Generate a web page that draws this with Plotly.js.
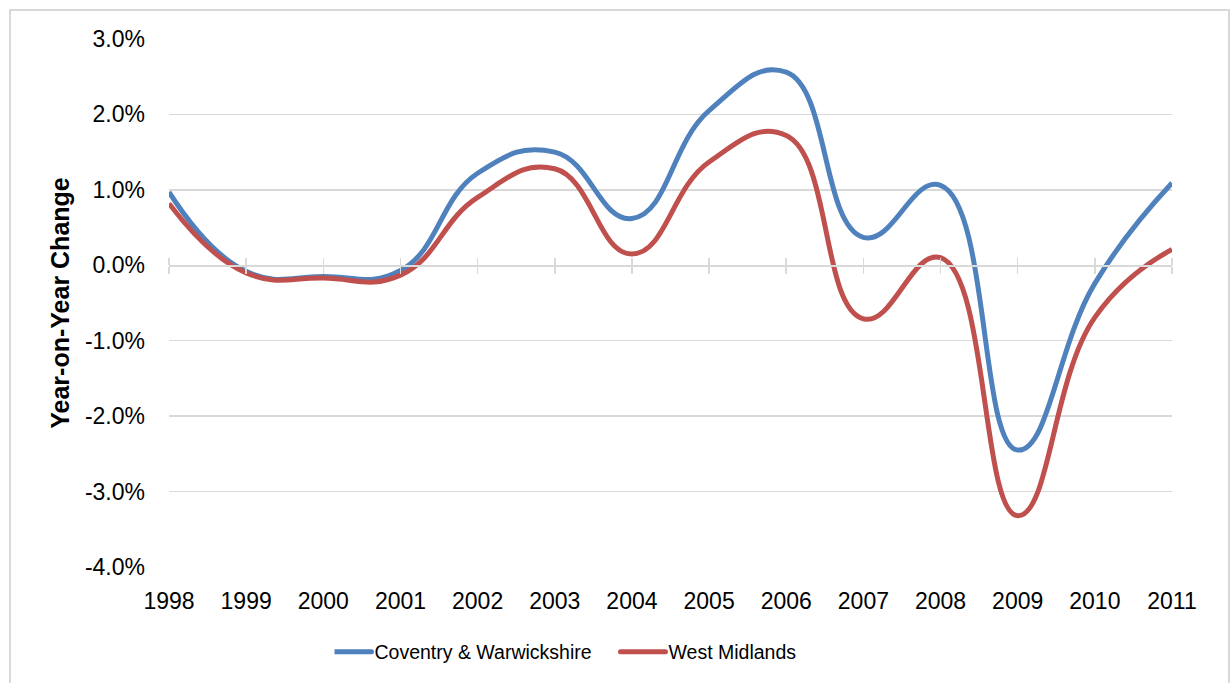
<!DOCTYPE html>
<html>
<head>
<meta charset="utf-8">
<script src="https://cdn.plot.ly/plotly-3.0.1.min.js"></script>
<style>
  html, body { margin: 0; padding: 0; background: #ffffff; }
  #wrap { position: relative; width: 1230px; height: 683px; overflow: hidden; }
  #chart { position: absolute; left: 0; top: 0; width: 1230px; height: 683px; }
  #frame { position: absolute; left: 9px; top: 9px; width: 1217px; height: 700px;
           border: 2px solid #d9d9d9; pointer-events: none; }
</style>
</head>
<body>
<div id="wrap">
  <div id="chart"></div>
  <div id="frame"></div>
</div>
<script>
// Year-on-year change, per cent
const years = [1998, 1999, 2000, 2001, 2002, 2003, 2004, 2005, 2006, 2007, 2008, 2009, 2010, 2011];
const coventryWarwickshire = [0.97, -0.08, -0.15, -0.07, 1.22, 1.50, 0.62, 2.05, 2.56, 0.37, 1.06, -2.45, -0.24, 1.09];
const westMidlands = [0.82, -0.10, -0.17, -0.13, 0.90, 1.28, 0.15, 1.37, 1.72, -0.71, 0.10, -3.32, -0.69, 0.21];

const yTickValues = [-4, -3, -2, -1, 0, 1, 2, 3];
const yTickLabels = ['-4.0%', '-3.0%', '-2.0%', '-1.0%', '0.0%', '1.0%', '2.0%', '3.0%'];
const xTickLabels = years.map(String);

const FONT = '"Liberation Sans", Arial, sans-serif';
const GRID = '#d9d9d9';
const yMin = -4, yMax = 3;
// paper position of the zero line inside the plot area
const zeroPos = (0 - yMin) / (yMax - yMin);

const traces = [
  {
    x: years, y: coventryWarwickshire, name: 'Coventry & Warwickshire',
    type: 'scatter', mode: 'lines',
    line: { color: '#4f81bd', width: 5, shape: 'spline', smoothing: 1.3 },
    hoverinfo: 'x+y+name'
  },
  {
    x: years, y: westMidlands, name: 'West Midlands',
    type: 'scatter', mode: 'lines',
    line: { color: '#c0504d', width: 5, shape: 'spline', smoothing: 1.3 },
    hoverinfo: 'x+y+name'
  },
  // empty traces that register the category axes drawn along the zero line
  { x: [], y: [], xaxis: 'x2', yaxis: 'y', showlegend: false, hoverinfo: 'skip' },
  { x: [], y: [], xaxis: 'x3', yaxis: 'y', showlegend: false, hoverinfo: 'skip' }
];

const xRange = [years[0], years[years.length - 1]];

const zeroAxis = (side) => ({
  overlaying: 'x', anchor: 'free', position: zeroPos, side: side,
  range: xRange, tickvals: years, showticklabels: false,
  ticks: 'outside', ticklen: 7, tickwidth: 1.5, tickcolor: GRID,
  showline: true, linecolor: GRID, linewidth: 1.5,
  showgrid: false, zeroline: false, fixedrange: true
});

const layout = {
  width: 1230, height: 683,
  margin: { l: 169, r: 58, t: 39, b: 116 },
  paper_bgcolor: 'rgba(0,0,0,0)', plot_bgcolor: 'rgba(0,0,0,0)',
  showlegend: true,
  font: { family: FONT, color: '#000000' },
  xaxis: {
    range: xRange, tickvals: years, ticktext: xTickLabels,
    showgrid: false, zeroline: false, showline: false, ticks: '',
    ticklabelstandoff: 18,
    tickfont: { family: FONT, size: 23, color: '#000000' }
  },
  xaxis2: zeroAxis('bottom'),
  xaxis3: zeroAxis('top'),
  yaxis: {
    range: [yMin, yMax], tickvals: yTickValues, ticktext: yTickLabels,
    showgrid: true, gridcolor: GRID, gridwidth: 1.5,
    zeroline: false, showline: false, ticks: '',
    ticklabelstandoff: 23,
    tickfont: { family: FONT, size: 23, color: '#000000' },
    title: { text: '<b>Year-on-Year Change</b>', standoff: 8,
             font: { family: FONT, size: 25, color: '#000000' } }
  },
  legend: {
    orientation: 'h', x: 0.165, xanchor: 'left', y: -0.161, yanchor: 'middle',
    entrywidth: 249, entrywidthmode: 'pixels',
    font: { family: FONT, size: 19.5, color: '#000000' },
    bgcolor: 'rgba(0,0,0,0)'
  }
};

// longer legend line samples, ending just before the label text
function styleLegendLines(gd) {
  gd.querySelectorAll('.legend .legendlines path').forEach(p => {
    p.setAttribute('d', 'M-8,0h45');
    p.style.strokeLinecap = 'round';
  });
}

Plotly.newPlot('chart', traces, layout, { displayModeBar: false, staticPlot: true })
  .then(gd => {
    styleLegendLines(gd);
    gd.on('plotly_afterplot', () => styleLegendLines(gd));
  });
</script>
</body>
</html>
